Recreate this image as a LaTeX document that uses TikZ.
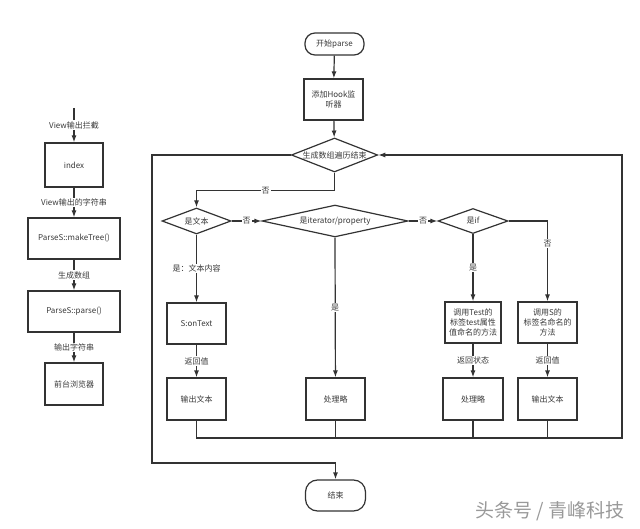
\documentclass[tikz,border=0pt]{standalone}
\usepackage{fontspec}
\setmainfont{Noto Sans CJK SC}
\usetikzlibrary{arrows.meta,shapes.geometric}
\definecolor{lc}{HTML}{333333}
\definecolor{tc}{HTML}{3A3A3A}
\begin{document}
\begin{tikzpicture}[x=1pt,y=-1pt,
  every node/.style={text=tc, font=\fontsize{8}{10}\selectfont},
  box/.style={draw=lc, line width=1.2pt, fill=white, align=center, inner sep=1pt},
  term/.style={box, rounded corners=10pt},
  dia/.style={draw=lc, line width=1.2pt, fill=white, diamond, aspect=3, inner sep=0pt, align=center},
  lbl/.style={fill=white, inner sep=1pt},
  con/.style={draw=lc, line width=1.2pt},
  arr/.style={con, -{Latex[length=7pt,width=5pt]}}]
\useasboundingbox (0,0) rectangle (640,529);
% left column
\coordinate (lin) at (74,108);
\node[box, minimum width=58pt, minimum height=44pt] (index) at (74,165) {index};
\node[box, minimum width=92pt, minimum height=41pt] (make) at (74,238.5) {ParseS::makeTree()};
\node[box, minimum width=92pt, minimum height=41pt] (parse) at (74,311.5) {ParseS::parse()};
\node[box, minimum width=58pt, minimum height=42pt] (browser) at (74,384) {前台浏览器};
\draw[arr] (lin) -- node[lbl]{View输出拦截} (index);
\draw[arr] (index) -- node[lbl]{View输出的字符串} (make);
\draw[arr] (make) -- node[lbl]{生成数组} (parse);
\draw[arr] (parse) -- node[lbl]{输出字符串} (browser);
% main flow
\node[term, minimum width=59pt, minimum height=22pt] (start) at (334.5,44) {开始parse};
\node[box, minimum width=59pt, minimum height=41pt] (hook) at (333.5,99.5) {添加Hook监\\听器};
\node[dia, minimum width=85pt, minimum height=34pt] (d0) at (334.5,155) {生成数组遍历结束};
\node[dia, minimum width=69pt, minimum height=26pt] (d1) at (196.5,221) {是文本};
\node[dia, minimum width=146pt, minimum height=28pt] (d2) at (335,221) {是iterator/property};
\node[dia, minimum width=70pt, minimum height=25pt] (d3) at (473,221) {是if};
\node[box, minimum width=59pt, minimum height=41pt] (ontext) at (196.5,323.5) {S:onText};
\node[box, minimum width=56pt, minimum height=41pt] (call1) at (473,322.5) {调用Test的\\标签test属性\\值命名的方法};
\node[box, minimum width=59pt, minimum height=41pt] (call2) at (547.5,322.5) {调用S的\\标签名命名的\\方法};
\node[box, minimum width=59pt, minimum height=42pt] (out1) at (196.5,399) {输出文本};
\node[box, minimum width=59pt, minimum height=42pt] (proc1) at (335.5,399) {处理略};
\node[box, minimum width=60pt, minimum height=42pt] (proc2) at (473,399) {处理略};
\node[box, minimum width=59pt, minimum height=42pt] (out2) at (547.5,399) {输出文本};
\node[term, rounded corners=12pt, minimum width=60pt, minimum height=31pt] (end) at (335.5,495.5) {结束};
\coordinate (bus) at (0,438);
\coordinate (rloop) at (622,438);
\coordinate (lloop) at (152,463);
\draw[arr] (start) -- (hook);
\draw[arr] (hook) -- (d0);
\draw[arr] (d0.south) -- ++(0,18) -| node[pos=0.25,lbl]{否} (d1.north);
\draw[arr] (d1.east) -- node[lbl]{否} (d2.west);
\draw[arr] (d2.east) -- node[lbl]{否} (d3.west);
\draw[arr] (d1.south) -- node[lbl]{是：文本内容} (ontext);
\draw[arr] (d2.south) -- node[lbl]{是} (proc1);
\draw[arr] (d3.south) -- node[lbl]{是} (call1);
\draw[arr] (d3.east) -| node[pos=0.64,lbl]{否} (call2.north);
\draw[arr] (ontext) -- node[lbl]{返回值} (out1);
\draw[arr] (call1) -- node[lbl]{返回状态} (proc2);
\draw[arr] (call2) -- node[lbl]{返回值} (out2);
\draw[arr] (out1.south) |- (rloop) |- (d0.east);
\draw[con] (proc1.south) -- (proc1.south |- bus);
\draw[con] (proc2.south) -- (proc2.south |- bus);
\draw[con] (out2.south) -- (out2.south |- bus);
\draw[arr] (d0.west) -| (lloop) -| (end.north);
% watermark
\node[text=gray!80, font=\fontsize{19}{22}\selectfont, anchor=east] (wm) at (628,511) {头条号 / 青峰科技};
\end{tikzpicture}
\end{document}
